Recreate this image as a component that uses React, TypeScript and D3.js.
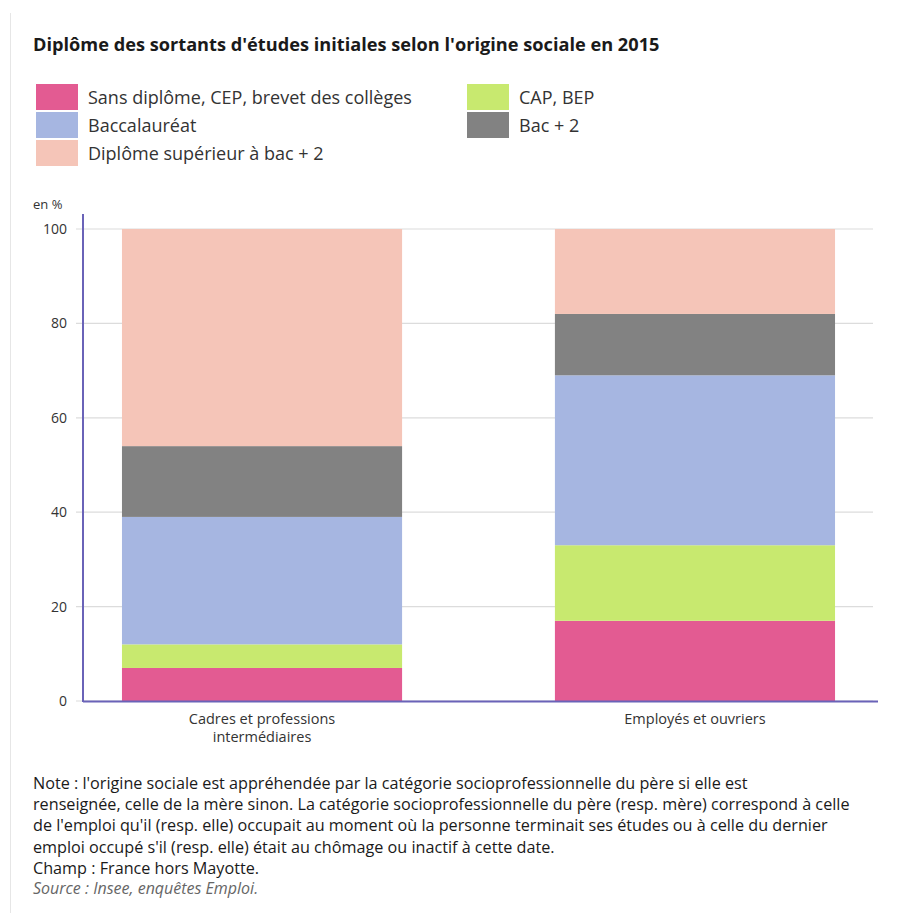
import React from "react";
import * as d3 from "d3";

const categories = ["Cadres et professions intermédiaires", "Employés et ouvriers"];
const categoryLines = [["Cadres et professions", "intermédiaires"], ["Employés et ouvriers"]];
const seriesNames = [
  "Sans diplôme, CEP, brevet des collèges",
  "CAP, BEP",
  "Baccalauréat",
  "Bac + 2",
  "Diplôme supérieur à bac + 2",
];
const sansDiplome = [7, 17];
const capBep = [5, 16];
const baccalaureat = [27, 36];
const bac2 = [15, 13];
const superieur = [46, 18];
const seriesColors = ["#e35b92", "#c8e96f", "#a6b6e1", "#828282", "#f5c5b8"];
const yTicks = [0, 20, 40, 60, 80, 100];
const noteLines = [
  "Note : l'origine sociale est appréhendée par la catégorie socioprofessionnelle du père si elle est",
  "renseignée, celle de la mère sinon. La catégorie socioprofessionnelle du père (resp. mère) correspond à celle",
  "de l'emploi qu'il (resp. elle) occupait au moment où la personne terminait ses études ou à celle du dernier",
  "emploi occupé s'il (resp. elle) était au chômage ou inactif à cette date.",
  "Champ : France hors Mayotte.",
];
const sourceText = "Source : Insee, enquêtes Emploi.";

export default function App() {
  const W = 907;
  const H = 913;
  const font = "'Open Sans', 'DejaVu Sans', sans-serif";
  const plot = { left: 83, right: 878, top: 229, bottom: 701 };

  const allSeries = [sansDiplome, capBep, baccalaureat, bac2, superieur];
  const rows = categories.map((c, i) => {
    const r: any = { cat: c };
    seriesNames.forEach((s, j) => (r[s] = allSeries[j][i]));
    return r;
  });
  const stacked = d3.stack<any>().keys(seriesNames)(rows);

  const x = d3
    .scaleBand<string>()
    .domain(categories)
    .range([plot.left, 874])
    .paddingInner(0.353)
    .paddingOuter(0.09);
  const y = d3.scaleLinear().domain([0, 100]).range([plot.bottom, plot.top]);

  const legendPos = [
    { x: 36, y: 84 },
    { x: 467, y: 84 },
    { x: 36, y: 112 },
    { x: 467, y: 112 },
    { x: 36, y: 140 },
  ];
  const legendSeries = [0, 1, 2, 3, 4];

  return (
    <svg
      width={W}
      height={H}
      style={{ position: "absolute", left: 0, top: 0, background: "#fff" }}
      fontFamily={font}
    >
      <line x1={10.5} x2={10.5} y1={13} y2={H} stroke="#e6e6e6" strokeWidth={1} />
      <text x={33} y={51} fontSize={18.2} fontWeight={700} fill="#1a1a1a">
        Diplôme des sortants d'études initiales selon l'origine sociale en 2015
      </text>

      {legendSeries.map((si, k) => (
        <g key={si} transform={`translate(${legendPos[k].x},${legendPos[k].y})`}>
          <rect width={42} height={26} fill={seriesColors[si]} />
          <text x={52} y={19.5} fontSize={18} fill="#333">
            {seriesNames[si]}
          </text>
        </g>
      ))}

      <text x={33} y={209} fontSize={13} fill="#333">
        en %
      </text>

      {yTicks.map((t) => (
        <g key={t}>
          <line x1={76} x2={plot.right - 5} y1={y(t)} y2={y(t)} stroke="#dcdcdc" strokeWidth={1.2} />
          <text x={67} y={y(t) + 5} fontSize={14} textAnchor="end" fill="#333">
            {t}
          </text>
        </g>
      ))}

      {stacked.map((layer, si) => (
        <g key={layer.key} fill={seriesColors[si]}>
          {layer.map((d, i) => (
            <rect
              key={i}
              x={x(categories[i])}
              width={x.bandwidth()}
              y={y(d[1])}
              height={y(d[0]) - y(d[1])}
            />
          ))}
        </g>
      ))}

      <line x1={plot.left} x2={plot.left} y1={214} y2={plot.bottom + 1} stroke="#6a63b8" strokeWidth={2} />
      <line x1={plot.left} x2={plot.right} y1={plot.bottom + 0.5} y2={plot.bottom + 0.5} stroke="#6a63b8" strokeWidth={2} />

      {categories.map((c, i) =>
        categoryLines[i].map((ln, j) => (
          <text
            key={c + j}
            x={(x(c) as number) + x.bandwidth() / 2}
            y={724 + j * 18}
            fontSize={14.5}
            textAnchor="middle"
            fill="#333"
          >
            {ln}
          </text>
        ))
      )}

      {noteLines.map((ln, i) => (
        <text key={i} x={33} y={789 + i * 21.2} fontSize={16.2} fill="#1a1a1a">
          {ln}
        </text>
      ))}
      <text x={33} y={894} fontSize={16} fontStyle="italic" fill="#666">
        {sourceText}
      </text>
    </svg>
  );
}
